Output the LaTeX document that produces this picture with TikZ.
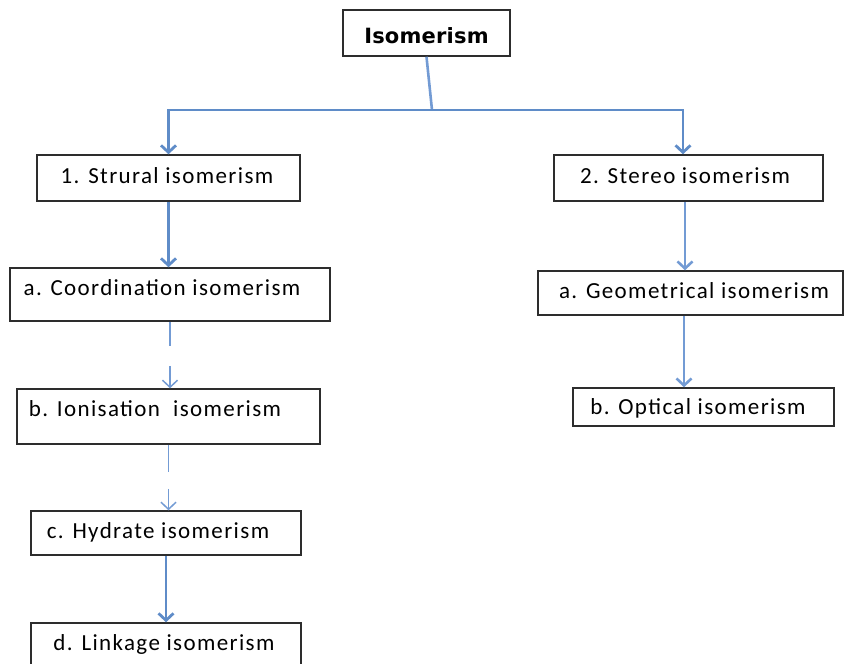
\documentclass[tikz,border=0pt]{standalone}
\usepackage{fontspec}
\setmainfont{Carlito}[LetterSpace=6]
\newfontfamily\titlefont{DejaVu Sans}[LetterSpace=1]
\usetikzlibrary{arrows.meta,shadows}
\definecolor{lineblue}{RGB}{95,140,200}
\definecolor{paleblue}{RGB}{115,155,212}
\definecolor{boxline}{RGB}{45,45,45}
\newcommand\lbl[3]{\makebox[0pt]{\hspace*{#1}\raisebox{#2}[0pt][0pt]{#3}}}
\begin{document}
\begin{tikzpicture}[x=1pt,y=-1pt,
  box/.style={draw=boxline,line width=1.5pt,fill=white,inner sep=0pt,
    drop shadow={shadow xshift=1.2pt,shadow yshift=-1.2pt,fill=black!55,opacity=0.7},
    font=\fontsize{23}{26}\selectfont},
  conn/.style={draw=lineblue,line width=2.8pt},
  midconn/.style={draw=paleblue,line width=2.6pt},
  thinconn/.style={draw=paleblue,line width=1.5pt},
  tip/.style={-{Straight Barb[length=7pt,width=15pt]}}]
\useasboundingbox (0,0) rectangle (844,664);
% boxes
\node[box,minimum width=167pt,minimum height=46pt,font=\titlefont\bfseries\fontsize{21}{24}\selectfont] (iso) at (426.5,33) {\lbl{0pt}{-10pt}{Isomerism}};
\node[box,minimum width=263pt,minimum height=46pt] (s1) at (168.5,178) {\lbl{-3pt}{-5pt}{1. Strural isomerism}};
\node[box,minimum width=320pt,minimum height=53pt] (a1) at (170,294.5) {\lbl{-16pt}{-0.5pt}{a. Coordination isomerism}};
\node[box,minimum width=303pt,minimum height=55pt] (b1) at (168.5,416.5) {\lbl{-27pt}{0.5pt}{b. Ionisation\ \ isomerism}};
\node[box,minimum width=270pt,minimum height=44pt] (c1) at (166,533) {\lbl{-16pt}{-5pt}{c. Hydrate isomerism}};
\node[box,minimum width=270pt,minimum height=57pt] (d1) at (166,651.5) {\lbl{-4pt}{1pt}{d. Linkage isomerism}};
\node[box,minimum width=269pt,minimum height=46pt] (s2) at (688.5,178) {\lbl{-7pt}{-5pt}{2. Stereo isomerism}};
\node[box,minimum width=305pt,minimum height=44pt] (g1) at (690.5,293) {\lbl{7pt}{-5pt}{a. Geometrical isomerism}};
\node[box,minimum width=261pt,minimum height=38pt] (o1) at (703.5,407) {\lbl{-11pt}{-7pt}{b. Optical isomerism}};
% connectors
\coordinate (jm) at (432,110);
\coordinate (s2in) at (683,0);
\coordinate (s2out) at (685,0);
\coordinate (g1out) at (684,0);
\draw[midconn] (iso.south) -- (jm);
\draw[conn,tip] (jm) -| (s1.north);
\draw[conn,tip] (jm) -| (s2in |- s2.north);
\draw[conn,tip] (s1.south) -- (s1.south |- a1.north);
\draw[thinconn,tip,dash pattern=on 24pt off 20pt on 80pt] (a1.south) -- (a1.south |- b1.north);
\draw[thinconn,tip,dash pattern=on 27pt off 17pt on 80pt] (b1.south) -- (b1.south |- c1.north);
\draw[conn,tip] (c1.south) -- (c1.south |- d1.north);
\draw[midconn,tip] (s2out |- s2.south) -- (s2out |- g1.north);
\draw[midconn,tip] (g1out |- g1.south) -- (g1out |- o1.north);
\end{tikzpicture}
\end{document}
